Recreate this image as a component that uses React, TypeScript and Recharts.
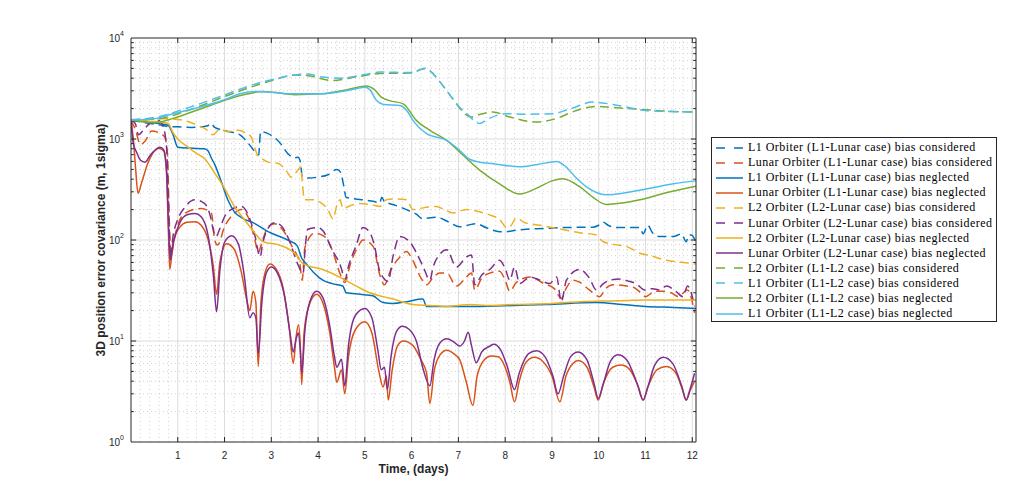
import React from 'react';
import { LineChart, Line, XAxis, YAxis, ReferenceLine } from 'recharts';

type Pt = [number, number];

const X_MAX = 12.08;
const xTicks = [1, 2, 3, 4, 5, 6, 7, 8, 9, 10, 11, 12];
const yTicks = [1, 10, 100, 1000, 10000];

const l1LunarCon: Pt[] = [[0,1530],[0.3,1450],[0.6,1380],[0.8,1330],[1.0,1320],[1.3,1300],[1.5,1320],[1.64,1350],[1.71,1430],[1.79,1300],[1.97,1220],[2.33,1100],[2.47,950],[2.6,800],[2.7,690],[2.73,700],[2.77,1180],[2.93,1130],[3.2,900],[3.35,720],[3.5,650],[3.57,660],[3.62,600],[3.66,430],[3.8,410],[4.0,420],[4.2,440],[4.4,500],[4.48,470],[4.54,360],[4.6,265],[4.8,255],[4.96,250],[5.2,240],[5.32,232],[5.36,265],[5.42,240],[5.6,225],[5.89,200],[6.1,180],[6.24,162],[6.35,165],[6.53,168],[6.8,150],[7.03,135],[7.2,140],[7.38,145],[7.6,132],[7.88,121],[8.03,121],[8.24,125],[8.45,128],[8.8,130],[9.31,133],[9.88,134],[10.0,140],[10.1,150],[10.2,140],[10.38,133],[10.88,133],[10.95,115],[11.05,140],[11.15,118],[11.3,108],[11.59,108],[11.77,115],[11.87,96],[11.93,112],[11.98,112],[12.08,94]];
const lunarL1Con: Pt[] = [[0,1530],[0.1,1220],[0.2,880],[0.3,950],[0.44,1200],[0.6,1150],[0.72,1050],[0.78,700],[0.82,150],[0.86,70],[0.92,100],[1.0,140],[1.15,184],[1.5,205],[1.72,184],[1.79,100],[1.85,89],[2.0,135],[2.21,184],[2.36,200],[2.5,170],[2.65,100],[2.72,75],[2.8,95],[2.93,135],[3.07,145],[3.25,125],[3.45,85],[3.61,58],[3.66,40],[3.72,85],[3.93,117],[4.14,108],[4.3,80],[4.48,45],[4.57,38],[4.7,60],[4.85,85],[4.96,100],[5.18,86],[5.32,45],[5.42,36],[5.55,50],[5.75,68],[5.89,77],[6.03,62],[6.2,42],[6.32,36],[6.45,42],[6.6,47],[6.75,47],[6.96,35],[7.15,42],[7.28,47],[7.35,32],[7.5,42],[7.67,47],[7.88,49],[8.0,40],[8.1,31],[8.24,38],[8.53,43],[8.83,37],[9.05,33],[9.2,26.5],[9.3,33],[9.45,40],[9.6,38],[9.8,32],[10.02,27.5],[10.15,33],[10.31,36],[10.74,34],[10.9,30],[11.0,27.5],[11.2,31],[11.38,31],[11.55,30],[11.7,27.5],[11.9,32],[12.05,19]];
const l1LunarNeg: Pt[] = [[0,1530],[0.3,1480],[0.6,1420],[0.79,1370],[0.9,1100],[1.0,830],[1.3,810],[1.57,800],[1.65,760],[1.71,660],[1.79,560],[1.92,390],[2.07,250],[2.21,190],[2.39,164],[2.64,146],[2.93,121],[3.35,100],[3.55,88],[3.65,66],[3.75,58],[3.9,48],[4.1,40],[4.3,37],[4.53,35],[4.6,30],[4.9,29],[5.17,28],[5.39,24],[5.6,23.5],[5.9,24.5],[6.24,26],[6.32,22],[6.8,22],[7.46,22],[8.2,22.5],[8.88,23],[9.95,24],[10.5,23],[11.0,22],[11.6,21.5],[12.08,21]];
const lunarL1Neg: Pt[] = [[0,1530],[0.05,1000],[0.1,500],[0.15,290],[0.22,360],[0.35,560],[0.48,740],[0.6,810],[0.7,760],[0.76,450],[0.8,120],[0.83,51],[0.9,95],[1.05,135],[1.2,150],[1.37,152],[1.5,140],[1.65,100],[1.76,55],[1.83,29],[1.9,60],[2.04,92],[2.2,82],[2.35,50],[2.48,25],[2.54,20],[2.61,31],[2.67,24],[2.72,5.6],[2.78,25],[2.88,50],[2.97,58],[3.1,52],[3.25,34],[3.38,14],[3.47,6],[3.53,11],[3.58,14.5],[3.62,9],[3.65,3.7],[3.7,12],[3.8,22],[3.97,29],[4.1,24],[4.25,12],[4.35,5.5],[4.4,3.9],[4.5,5.2],[4.57,3.0],[4.65,7],[4.8,13],[5.0,15.5],[5.15,12],[5.3,5],[5.39,3.5],[5.46,4.5],[5.5,2.6],[5.58,5],[5.7,9],[5.82,10],[6.03,9],[6.2,6.5],[6.32,4.8],[6.39,2.4],[6.48,5],[6.6,7.2],[6.75,8.1],[6.9,7.5],[7.03,6.5],[7.17,3.9],[7.31,2.3],[7.4,4.5],[7.55,6.5],[7.7,7.1],[7.85,7],[8.0,5.5],[8.1,3.9],[8.2,2.5],[8.3,4],[8.45,6.2],[8.63,6.9],[8.8,6.3],[9.0,4.5],[9.17,2.5],[9.3,4.5],[9.45,6],[9.56,6.4],[9.75,5.5],[9.9,3.5],[9.99,2.6],[10.1,3.8],[10.3,5.5],[10.48,5.8],[10.65,5.3],[10.85,3.5],[10.95,2.6],[11.05,3.5],[11.25,5.2],[11.45,5.6],[11.65,4.8],[11.8,3.2],[11.87,2.6],[11.95,3.2],[12.05,4.0]];
const l2LunarCon: Pt[] = [[0,1550],[0.4,1570],[0.79,1590],[1.0,1560],[1.2,1500],[1.45,1350],[1.6,1250],[1.75,1100],[1.9,1250],[2.07,1180],[2.29,1220],[2.45,1150],[2.57,1050],[2.64,830],[2.71,690],[2.8,640],[2.93,590],[3.14,575],[3.3,500],[3.43,420],[3.55,480],[3.63,530],[3.66,380],[3.71,250],[3.93,250],[4.04,237],[4.21,200],[4.32,162],[4.4,220],[4.47,250],[4.53,205],[4.7,220],[4.89,230],[5.1,225],[5.32,215],[5.46,250],[5.7,255],[5.89,250],[6.03,200],[6.18,205],[6.35,212],[6.53,215],[6.7,200],[6.89,185],[7.05,195],[7.2,200],[7.46,190],[7.7,175],[7.88,160],[8.03,133],[8.1,135],[8.24,165],[8.4,150],[8.74,140],[9.31,125],[9.6,118],[9.95,112],[10.05,100],[10.1,96],[10.35,90],[10.6,86],[10.88,74],[11.1,70],[11.45,63],[11.8,60],[12.08,58]];
const lunarL2Con: Pt[] = [[0,1530],[0.09,1430],[0.16,1100],[0.25,1200],[0.4,1430],[0.58,1530],[0.69,1310],[0.76,830],[0.8,250],[0.84,68],[0.9,110],[1.0,160],[1.15,210],[1.36,250],[1.57,230],[1.7,170],[1.77,120],[1.82,108],[1.9,130],[2.0,170],[2.14,200],[2.36,215],[2.5,180],[2.65,110],[2.76,68],[2.82,95],[2.93,130],[3.07,148],[3.2,140],[3.4,95],[3.55,60],[3.68,47],[3.73,90],[3.78,128],[4.0,133],[4.1,124],[4.3,80],[4.5,52],[4.57,40],[4.65,55],[4.82,90],[4.96,133],[5.1,120],[5.2,90],[5.32,49],[5.5,39],[5.6,68],[5.75,108],[5.96,96],[6.1,75],[6.25,54],[6.39,40],[6.46,54],[6.6,72],[6.75,80],[6.96,54],[7.17,68],[7.28,71],[7.35,36],[7.5,45],[7.67,51],[7.88,63],[8.0,52],[8.1,40],[8.2,54],[8.31,37],[8.53,43],[8.75,40],[8.95,37],[9.1,43],[9.2,24.5],[9.31,40],[9.59,51],[9.8,42],[9.95,32],[10.1,37],[10.24,40],[10.45,41],[10.65,39],[10.8,37],[10.98,32],[11.15,33],[11.3,32],[11.45,35],[11.65,31],[11.8,27.5],[11.9,35],[12.05,22]];
const l2LunarNeg: Pt[] = [[0,1550],[0.4,1500],[0.79,1430],[0.9,1150],[1.0,1000],[1.22,830],[1.4,720],[1.57,640],[1.79,460],[2.0,325],[2.22,212],[2.43,158],[2.6,125],[2.71,108],[2.83,96],[3.14,90],[3.4,80],[3.55,70],[3.68,58],[4.1,51],[4.5,42],[4.82,35],[5.1,30],[5.39,27.5],[5.6,26],[6.03,23],[6.4,22.5],[6.75,22],[7.0,22.5],[7.24,23],[7.6,22.5],[8.17,23],[9.0,23.5],[9.6,24.5],[10.4,25],[11.0,25.5],[12.08,25.5]];
const lunarL2Neg: Pt[] = [[0,1530],[0.05,900],[0.12,740],[0.2,620],[0.3,590],[0.42,700],[0.55,800],[0.62,830],[0.7,780],[0.76,500],[0.8,150],[0.84,63],[0.9,90],[1.05,150],[1.2,178],[1.37,183],[1.5,170],[1.65,110],[1.76,45],[1.83,19.5],[1.9,50],[2.0,95],[2.15,110],[2.3,90],[2.42,45],[2.54,17],[2.61,19],[2.67,17],[2.72,7.5],[2.8,25],[2.9,48],[3.0,54],[3.12,48],[3.28,28],[3.4,12],[3.47,7.8],[3.53,10.5],[3.58,12],[3.62,8],[3.65,4.8],[3.72,13],[3.83,25],[3.97,31],[4.1,27],[4.25,14],[4.35,7],[4.4,5.5],[4.5,6.6],[4.57,3.6],[4.65,9],[4.8,18],[5.0,21],[5.15,17],[5.28,8],[5.35,5.2],[5.42,5.5],[5.48,3.3],[5.56,7],[5.68,12.5],[5.8,14],[5.95,13],[6.1,10],[6.25,5.2],[6.39,3.6],[6.48,6.5],[6.6,9.5],[6.75,10.5],[6.9,9.8],[7.03,8.9],[7.13,10],[7.21,12.2],[7.28,9],[7.38,6.1],[7.5,7.8],[7.67,8.9],[7.76,9.3],[7.9,8.2],[8.05,5.5],[8.2,3.3],[8.3,4.8],[8.5,7.5],[8.67,8.0],[8.85,7],[9.02,4.5],[9.13,3.0],[9.25,4.5],[9.4,7],[9.56,7.8],[9.75,6.5],[9.9,3.8],[9.99,2.7],[10.1,3.8],[10.25,6.3],[10.41,7.3],[10.6,6.5],[10.82,3.8],[10.95,2.6],[11.05,3.5],[11.2,5.8],[11.38,6.9],[11.58,6.0],[11.78,3.5],[11.87,2.6],[11.95,3.3],[12.05,4.8]];
const l2L1L2Con: Pt[] = [[0,1550],[0.55,1580],[1.26,1950],[1.97,2600],[2.68,3400],[3.1,3900],[3.5,4300],[3.75,4250],[4.3,3800],[4.8,4100],[5.32,4450],[5.96,4500],[6.28,4950],[6.4,4700],[6.6,3700],[6.8,2800],[7.03,2020],[7.15,1750],[7.28,1650],[7.45,1750],[7.74,1850],[8.1,1650],[8.67,1470],[9.1,1600],[9.5,1900],[9.95,2100],[10.3,2050],[11.0,1950],[11.5,1880],[12.08,1850]];
const l1L1L2Con: Pt[] = [[0,1550],[0.55,1650],[1.26,2070],[1.97,2700],[2.68,3530],[3.1,3950],[3.4,4250],[3.75,4400],[4.1,4100],[4.47,4000],[5.0,4350],[5.32,4600],[5.96,4550],[6.15,4800],[6.28,5030],[6.4,4700],[6.6,3700],[6.8,2800],[7.03,2050],[7.2,1750],[7.35,1500],[7.46,1420],[7.6,1550],[8.03,1780],[8.5,1760],[9.02,1780],[9.4,2000],[9.88,2320],[10.3,2200],[11.0,1920],[11.5,1870],[12.08,1850]];
const l2L1L2Neg: Pt[] = [[0,1550],[0.25,1480],[0.5,1450],[0.9,1600],[1.3,1850],[1.7,2150],[2.1,2500],[2.5,2800],[2.8,2950],[3.1,2880],[3.5,2750],[4.1,2800],[4.5,3000],[4.85,3250],[5.03,3350],[5.2,3100],[5.35,2600],[5.53,2400],[5.82,2230],[6.1,1530],[6.39,1220],[6.75,970],[7.1,690],[7.46,490],[7.88,360],[8.31,285],[8.7,330],[9.0,385],[9.24,405],[9.6,335],[9.9,260],[10.16,225],[10.5,232],[10.88,250],[11.4,290],[12.08,340]];
const l1L1L2Neg: Pt[] = [[0,1550],[0.3,1560],[0.55,1600],[0.9,1780],[1.25,1950],[1.6,2150],[2.0,2450],[2.33,2800],[2.68,2950],[3.0,2900],[3.4,2800],[4.1,2800],[4.5,2950],[4.82,3150],[5.0,3250],[5.1,3100],[5.25,2400],[5.4,2200],[5.75,2150],[5.9,1900],[6.03,1530],[6.32,1130],[6.75,970],[7.03,770],[7.24,630],[7.46,590],[7.74,570],[8.31,530],[8.7,560],[9.1,600],[9.3,530],[9.5,420],[9.74,335],[10.16,280],[10.6,295],[11.1,325],[11.6,360],[12.08,385]];

const series = [
  { name: 'L1 Orbiter (L1-Lunar case) bias considered', data: l1LunarCon, color: '#0072BD', dash: true },
  { name: 'Lunar Orbiter (L1-Lunar case) bias considered', data: lunarL1Con, color: '#D95319', dash: true },
  { name: 'L1 Orbiter (L1-Lunar case) bias neglected', data: l1LunarNeg, color: '#0072BD', dash: false },
  { name: 'Lunar Orbiter (L1-Lunar case) bias neglected', data: lunarL1Neg, color: '#D95319', dash: false },
  { name: 'L2 Orbiter (L2-Lunar case) bias considered', data: l2LunarCon, color: '#EDB120', dash: true },
  { name: 'Lunar Orbiter (L2-Lunar case) bias considered', data: lunarL2Con, color: '#7E2F8E', dash: true },
  { name: 'L2 Orbiter (L2-Lunar case) bias neglected', data: l2LunarNeg, color: '#EDB120', dash: false },
  { name: 'Lunar Orbiter (L2-Lunar case) bias neglected', data: lunarL2Neg, color: '#7E2F8E', dash: false },
  { name: 'L2 Orbiter (L1-L2 case) bias considered', data: l2L1L2Con, color: '#77AC30', dash: true },
  { name: 'L1 Orbiter (L1-L2 case) bias considered', data: l1L1L2Con, color: '#4DBEEE', dash: true },
  { name: 'L2 Orbiter (L1-L2 case) bias neglected', data: l2L1L2Neg, color: '#77AC30', dash: false },
  { name: 'L1 Orbiter (L1-L2 case) bias neglected', data: l1L1L2Neg, color: '#4DBEEE', dash: false },
];

const minorX: number[] = [];
for (let i = 1; i <= 60; i++) if (i % 5 !== 0) minorX.push(i / 5);
const minorY: number[] = [];
for (let d = 0; d < 4; d++) for (let m = 2; m <= 9; m++) minorY.push(m * Math.pow(10, d));

const AXIS = '#262626';
const sans = '"Liberation Sans", Arial, sans-serif';

const YTick = (props: any) => {
  const { x, y, payload } = props;
  const exp = Math.round(Math.log10(payload.value));
  return (
    <text x={x + 1} y={y + 4} textAnchor="end" fontFamily={sans} fontSize={10} fill={AXIS}>
      10<tspan dy={-6} fontSize={7}>{exp}</tspan>
    </text>
  );
};

export default function App() {
  return (
    <div style={{ position: 'relative', width: 994, height: 481 }}>
      <LineChart width={994} height={481} margin={{ top: 30, right: 306, bottom: 7, left: 0 }}>
        <XAxis
          type="number"
          dataKey="t"
          domain={[0, X_MAX]}
          ticks={xTicks}
          allowDataOverflow
          tickLine={false}
          axisLine={{ stroke: AXIS }}
          height={40}
          tick={{ fontSize: 10, fill: AXIS, fontFamily: sans }}
          tickMargin={4}
          label={{ value: 'Time, (days)', position: 'insideBottom', offset: 9, style: { fontSize: 12, fontWeight: 'bold', fill: AXIS, fontFamily: sans } }}
        />
        <YAxis
          type="number"
          scale="log"
          domain={[1, 10000]}
          ticks={yTicks}
          allowDataOverflow
          tickLine={false}
          axisLine={{ stroke: AXIS }}
          width={123}
          tick={<YTick />}
          label={{ value: '3D position error covariance (m, 1sigma)', angle: -90, position: 'insideLeft', offset: 93, style: { textAnchor: 'middle', fontSize: 12, fontWeight: 'bold', fill: AXIS, fontFamily: sans } }}
        />
        {minorX.map((t) => (
          <ReferenceLine key={'mx' + t} x={t} stroke="#b4b4b4" strokeDasharray="1 3" strokeWidth={0.6} />
        ))}
        {minorY.map((v) => (
          <ReferenceLine key={'my' + v} y={v} stroke="#b4b4b4" strokeDasharray="1 3" strokeWidth={0.6} />
        ))}
        {xTicks.map((t) => (
          <ReferenceLine key={'gx' + t} x={t} stroke="#dcdcdc" strokeWidth={1} />
        ))}
        {[10, 100, 1000].map((v) => (
          <ReferenceLine key={'gy' + v} y={v} stroke="#dcdcdc" strokeWidth={1} />
        ))}
        {series.map((s) => (
          <Line
            key={s.name}
            data={s.data.map(([t, v]) => ({ t, v }))}
            dataKey="v"
            type="monotone"
            stroke={s.color}
            strokeWidth={1.5}
            strokeDasharray={s.dash ? '9 5' : undefined}
            dot={false}
            isAnimationActive={false}
          />
        ))}
        {xTicks.map((t) => (
          <ReferenceLine key={'tb' + t} segment={[{ x: t, y: 1 }, { x: t, y: 1.12 }]} stroke={AXIS} />
        ))}
        {xTicks.map((t) => (
          <ReferenceLine key={'tt' + t} segment={[{ x: t, y: 10000 }, { x: t, y: 10000 / 1.12 }]} stroke={AXIS} />
        ))}
        {[10, 100, 1000].map((v) => (
          <ReferenceLine key={'tl' + v} segment={[{ x: 0, y: v }, { x: 0.11, y: v }]} stroke={AXIS} />
        ))}
        {[10, 100, 1000].map((v) => (
          <ReferenceLine key={'tr' + v} segment={[{ x: X_MAX, y: v }, { x: X_MAX - 0.11, y: v }]} stroke={AXIS} />
        ))}
        {minorY.map((v) => (
          <ReferenceLine key={'ml' + v} segment={[{ x: 0, y: v }, { x: 0.06, y: v }]} stroke={AXIS} />
        ))}
        {minorY.map((v) => (
          <ReferenceLine key={'mr' + v} segment={[{ x: X_MAX, y: v }, { x: X_MAX - 0.06, y: v }]} stroke={AXIS} />
        ))}
        <ReferenceLine y={10000} stroke={AXIS} />
        <ReferenceLine x={X_MAX} stroke={AXIS} />
      </LineChart>
      <div
        style={{
          position: 'absolute',
          left: 703,
          top: 129,
          width: 284,
          height: 181,
          border: `1px solid ${AXIS}`,
          background: '#fff',
          fontFamily: '"Liberation Serif", "Times New Roman", serif',
          fontSize: 12,
          letterSpacing: 0.45,
          color: '#000',
          paddingTop: 2,
          boxSizing: 'content-box',
        }}
      >
        {series.map((s) => (
          <div key={s.name} style={{ display: 'flex', alignItems: 'center', height: 15.1, whiteSpace: 'nowrap' }}>
            <svg width={36} height={10} style={{ flex: 'none' }}>
              <line x1={4} y1={5} x2={31} y2={5} stroke={s.color} strokeWidth={1.5} strokeDasharray={s.dash ? '9 9' : undefined} />
            </svg>
            <span>{s.name}</span>
          </div>
        ))}
      </div>
    </div>
  );
}
